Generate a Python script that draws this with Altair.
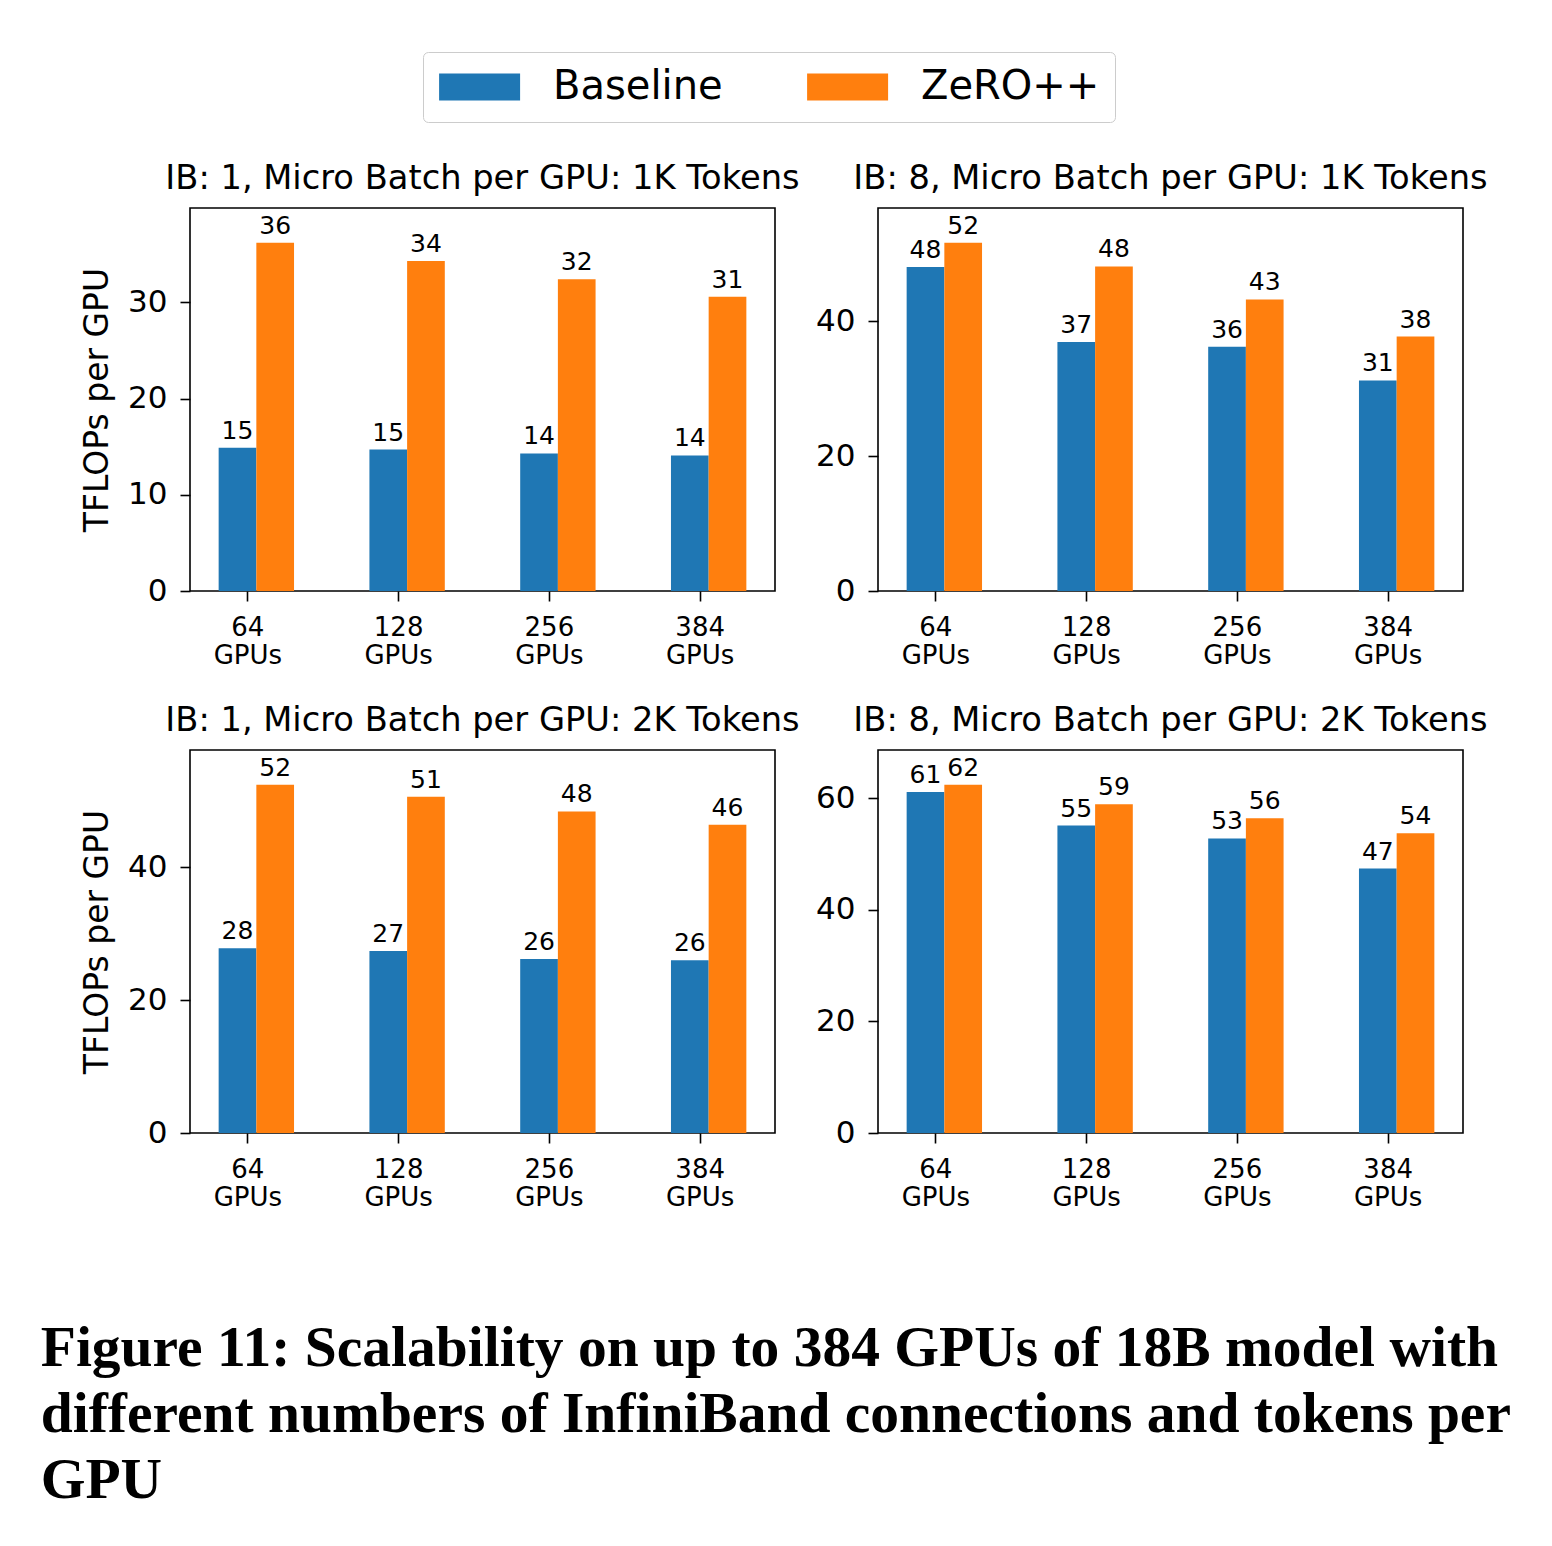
import altair as alt
import pandas as pd

# ---- data ----
gpu_counts = ["64", "128", "256", "384"]
series_names = ["Baseline", "ZeRO++"]
series_colors = ["#1f77b4", "#ff7f0e"]

panel_titles = [
    "IB: 1, Micro Batch per GPU: 1K Tokens",
    "IB: 8, Micro Batch per GPU: 1K Tokens",
    "IB: 1, Micro Batch per GPU: 2K Tokens",
    "IB: 8, Micro Batch per GPU: 2K Tokens",
]

baseline_ib1_1k = [14.9, 14.7, 14.3, 14.1]
zeropp_ib1_1k = [36.2, 34.3, 32.4, 30.6]
baseline_ib8_1k = [48.0, 36.9, 36.2, 31.2]
zeropp_ib8_1k = [51.6, 48.1, 43.2, 37.7]
baseline_ib1_2k = [27.8, 27.4, 26.2, 26.0]
zeropp_ib1_2k = [52.4, 50.6, 48.4, 46.4]
baseline_ib8_2k = [61.1, 55.1, 52.8, 47.4]
zeropp_ib8_2k = [62.4, 58.9, 56.4, 53.7]

panel_values = [
    (baseline_ib1_1k, zeropp_ib1_1k),
    (baseline_ib8_1k, zeropp_ib8_1k),
    (baseline_ib1_2k, zeropp_ib1_2k),
    (baseline_ib8_2k, zeropp_ib8_2k),
]
y_tick_values = [[0, 10, 20, 30], [0, 20, 40], [0, 20, 40], [0, 20, 40, 60]]
y_axis_title = "TFLOPs per GPU"
gpu_suffix = "GPUs"

caption_lines = [
    "Figure 11: Scalability on up to 384 GPUs of 18B model with",
    "different numbers of InfiniBand connections and tokens per",
    "GPU",
]

SANS = "DejaVu Sans"
PANEL_W, PANEL_H = 585, 383


def make_panel(i):
    base_vals, zero_vals = panel_values[i]
    rows = []
    for s_name, vals in zip(series_names, (base_vals, zero_vals)):
        for g, v in zip(gpu_counts, vals):
            rows.append({"gpu": g, "series": s_name, "value": v})
    df = pd.DataFrame(rows)
    ymax = max(base_vals + zero_vals) * 1.1
    show_title = (i % 2 == 0)

    y_axis = alt.Axis(
        values=y_tick_values[i],
        title=y_axis_title if show_title else None,
        titleFont=SANS,
        titleFontSize=33,
        titleFontWeight="normal",
        titleColor="black",
        titlePadding=13,
        labelPadding=13,
        labelFontSize=31,
    )

    base = alt.Chart(df).encode(
        x=alt.X(
            "gpu:N",
            sort=gpu_counts,
            scale=alt.Scale(paddingInner=0.5, paddingOuter=0.19),
            axis=alt.Axis(
                title=None,
                labelAngle=0,
                labelExpr="[datum.label, '" + gpu_suffix + "']",
                labelFontSize=26,
                labelLineHeight=28,
                labelPadding=13,
                tickOffset=-9,
            ),
        ),
        xOffset=alt.XOffset(
            "series:N",
            sort=series_names,
            scale=alt.Scale(paddingInner=0, paddingOuter=0),
        ),
        y=alt.Y(
            "value:Q",
            scale=alt.Scale(domain=[0, ymax], nice=False, zero=True),
            axis=y_axis,
        ),
    )

    bars = base.mark_bar(strokeWidth=0).encode(
        color=alt.Color(
            "series:N",
            sort=series_names,
            scale=alt.Scale(domain=series_names, range=series_colors),
            legend=alt.Legend(
                title=None,
                orient="none",
                direction="horizontal",
                legendX=233,
                legendY=-156,
                symbolType="M-1.4,-1H4.6V1H-1.4Z",
                symbolSize=729,
                symbolStrokeWidth=0,
                labelFont=SANS,
                labelFontSize=40,
                labelColor="black",
                labelLimit=0,
                labelOffset=75,
                columnPadding=83,
                padding=15,
                strokeColor="#cccccc",
                fillColor="white",
                cornerRadius=5,
            ),
        )
    )

    labels = base.mark_text(
        font=SANS, fontSize=25, color="black", baseline="alphabetic", dy=-9
    ).encode(text=alt.Text("value:Q", format=".0f"))

    return alt.layer(bars, labels).properties(
        width=PANEL_W,
        height=PANEL_H,
        title=alt.TitleParams(
            text=panel_titles[i],
            font=SANS,
            fontSize=33.7,
            fontWeight="normal",
            color="black",
            offset=12,
        ),
    )


panels = [make_panel(i) for i in range(4)]

chart = alt.concat(
    *panels,
    columns=2,
    spacing={"row": 159, "column": 103},
    bounds="flush",
    background="white",
    title=alt.TitleParams(
        text=caption_lines,
        orient="bottom",
        anchor="start",
        font="Liberation Serif",
        fontSize=57.5,
        fontWeight="bold",
        lineHeight=66,
        color="black",
        offset=110,
        dx=-40,
    ),
    padding={"left": 40, "top": 51, "right": 10, "bottom": 10},
).configure_view(
    stroke="black", strokeWidth=1.6
).configure_axis(
    grid=False,
    domain=False,
    tickColor="black",
    tickWidth=1.6,
    tickSize=10,
    labelFont=SANS,
    labelFontSize=30,
    labelColor="black",
    labelPadding=10,
)

chart.save("out.html", embed_options={"renderer": "svg", "actions": False})
